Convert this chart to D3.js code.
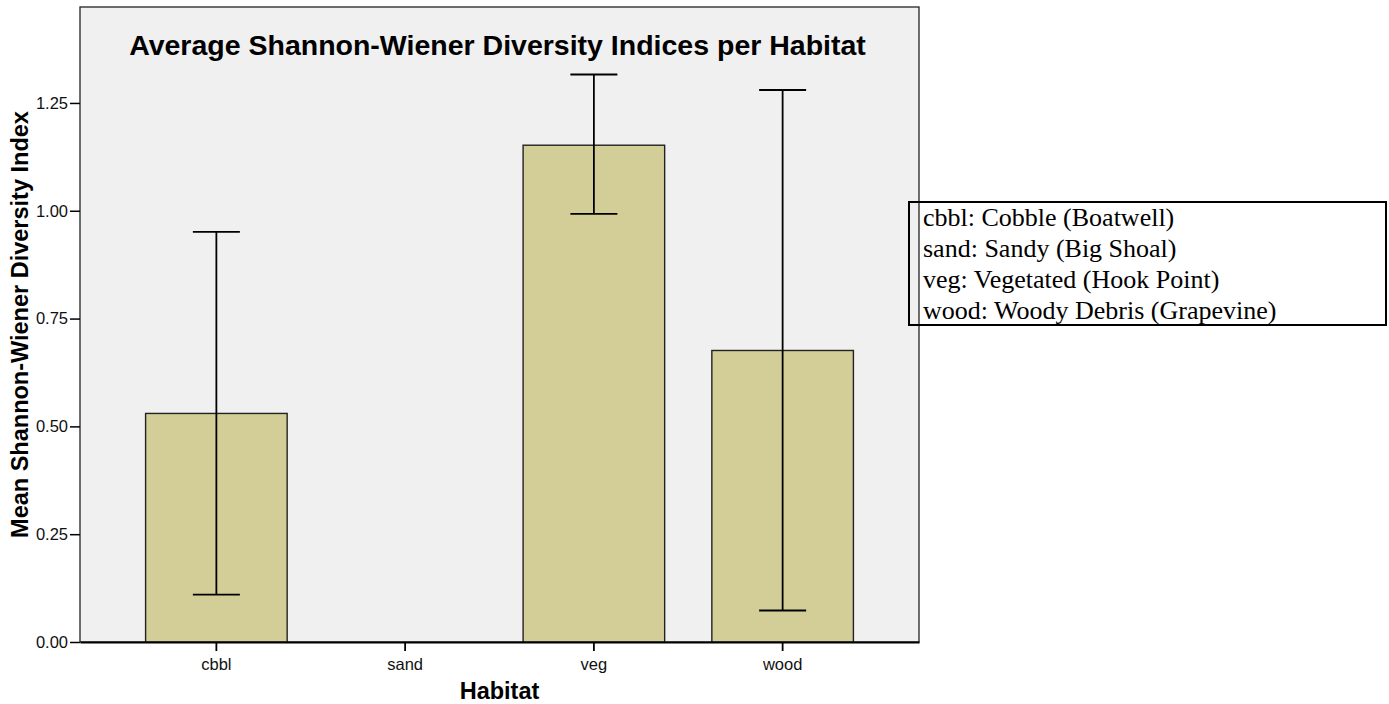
<!DOCTYPE html>
<html>
<head>
<meta charset="utf-8">
<script src="https://cdn.jsdelivr.net/npm/d3@7"></script>
<style>
  html, body { margin: 0; padding: 0; background: #ffffff; }
  svg { display: block; }
</style>
</head>
<body>
<svg id="chart" width="1389" height="704"></svg>
<script>
// Habitat categories and their summary statistics
const habitats = ["cbbl", "sand", "veg", "wood"];
const meanIndex = [0.530, null, 1.152, 0.676];
const ciLower = [0.110, null, 0.993, 0.073];
const ciUpper = [0.951, null, 1.316, 1.280];
const yTicks = [0, 0.25, 0.5, 0.75, 1.0, 1.25];
const legendLines = [
  "cbbl: Cobble (Boatwell)",
  "sand: Sandy (Big Shoal)",
  "veg: Vegetated (Hook Point)",
  "wood: Woody Debris (Grapevine)"
];

const rows = habitats.map((h, i) => ({
  habitat: h, mean: meanIndex[i], lo: ciLower[i], hi: ciUpper[i]
}));

const svg = d3.select("#chart");
const sans = "'Liberation Sans', Arial, sans-serif";
const serif = "'Liberation Serif', 'Times New Roman', serif";

const plot = { left: 80, right: 919, top: 7, bottom: 642 };

const x = d3.scaleBand()
  .domain(habitats)
  .range([plot.left, plot.right])
  .paddingInner(0.25)
  .paddingOuter(0.3475);

const y = d3.scaleLinear()
  .domain([0, 1.4725])
  .range([plot.bottom, plot.top]);

// plot background and frame
svg.append("rect")
  .attr("x", plot.left).attr("y", plot.top)
  .attr("width", plot.right - plot.left).attr("height", plot.bottom - plot.top)
  .attr("fill", "#f0f0f0")
  .attr("stroke", "#222").attr("stroke-width", 1.3);

// bars
svg.append("g").selectAll("rect")
  .data(rows.filter(d => d.mean != null))
  .join("rect")
  .attr("x", d => x(d.habitat))
  .attr("y", d => y(d.mean))
  .attr("width", x.bandwidth())
  .attr("height", d => y(0) - y(d.mean))
  .attr("fill", "#d3ce98")
  .attr("stroke", "#222")
  .attr("stroke-width", 1.4);

// error bars
const capHalf = 23.5;
const eb = svg.append("g").attr("stroke", "#000").attr("stroke-width", 1.8).attr("fill", "none");
rows.filter(d => d.lo != null).forEach(d => {
  const cx = x(d.habitat) + x.bandwidth() / 2;
  eb.append("line").attr("x1", cx).attr("x2", cx).attr("y1", y(d.lo)).attr("y2", y(d.hi));
  eb.append("line").attr("x1", cx - capHalf).attr("x2", cx + capHalf).attr("y1", y(d.lo)).attr("y2", y(d.lo));
  eb.append("line").attr("x1", cx - capHalf).attr("x2", cx + capHalf).attr("y1", y(d.hi)).attr("y2", y(d.hi));
});

// y axis
const yAxis = svg.append("g")
  .attr("transform", `translate(${plot.left},0)`)
  .call(d3.axisLeft(y).tickValues(yTicks).tickFormat(d3.format(".2f")).tickSize(10).tickSizeOuter(0).tickPadding(2));
yAxis.select(".domain").remove();
yAxis.selectAll(".tick line").attr("stroke", "#000").attr("stroke-width", 1.5);
yAxis.selectAll(".tick text").attr("font-family", sans).attr("font-size", 16.5).attr("fill", "#111");

// x axis
const xAxis = svg.append("g")
  .attr("transform", `translate(0,${plot.bottom})`)
  .call(d3.axisBottom(x).tickSize(9).tickSizeOuter(0).tickPadding(7));
xAxis.select(".domain").attr("stroke", "#000").attr("stroke-width", 2);
xAxis.selectAll(".tick line").attr("stroke", "#000").attr("stroke-width", 1.8);
xAxis.selectAll(".tick text").attr("font-family", sans).attr("font-size", 16.5).attr("fill", "#111");

// titles
svg.append("text")
  .attr("x", 497.5).attr("y", 55)
  .attr("text-anchor", "middle")
  .attr("font-family", sans).attr("font-weight", "bold").attr("font-size", 28.5)
  .attr("fill", "#000")
  .text("Average Shannon-Wiener Diversity Indices per Habitat");

svg.append("text")
  .attr("x", (plot.left + plot.right) / 2).attr("y", 699)
  .attr("text-anchor", "middle")
  .attr("font-family", sans).attr("font-weight", "bold").attr("font-size", 23.5)
  .attr("fill", "#000")
  .text("Habitat");

svg.append("text")
  .attr("transform", `translate(28,${(plot.top + plot.bottom) / 2}) rotate(-90)`)
  .attr("text-anchor", "middle")
  .attr("font-family", sans).attr("font-weight", "bold").attr("font-size", 23.5)
  .attr("fill", "#000")
  .text("Mean Shannon-Wiener Diversity Index");

// habitat key
const key = svg.append("g");
key.append("rect")
  .attr("x", 909).attr("y", 202)
  .attr("width", 477).attr("height", 123)
  .attr("fill", "none").attr("stroke", "#000").attr("stroke-width", 2);
key.selectAll("text")
  .data(legendLines)
  .join("text")
  .attr("x", 923)
  .attr("y", (d, i) => 226 + i * 31)
  .attr("font-family", serif).attr("font-size", 26)
  .attr("fill", "#000")
  .text(d => d);
</script>
</body>
</html>
